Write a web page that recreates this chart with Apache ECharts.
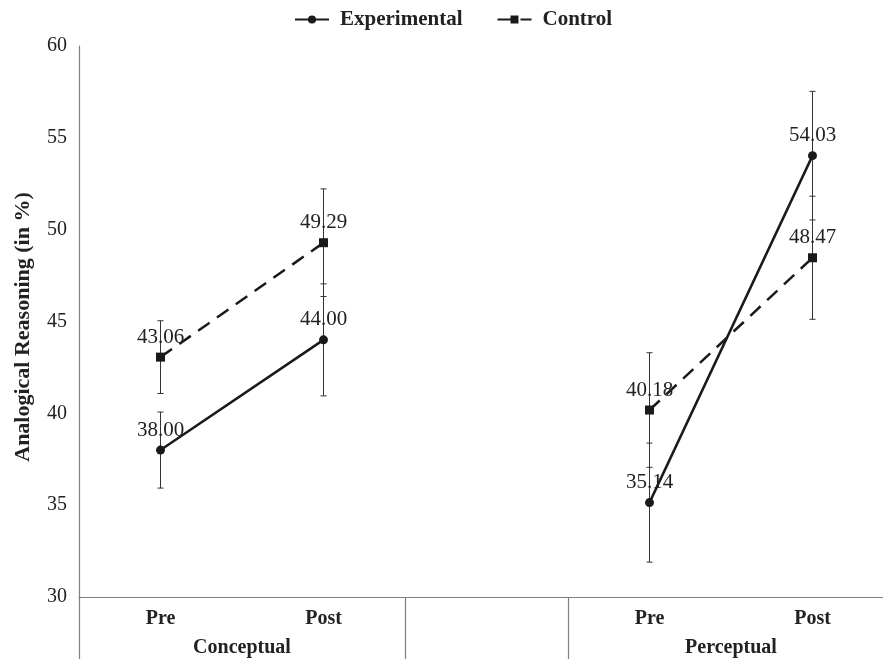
<!DOCTYPE html>
<html>
<head>
<meta charset="utf-8">
<script src="https://cdn.jsdelivr.net/npm/echarts@6/dist/echarts.min.js"></script>
<style>html,body{margin:0;padding:0;background:#fff;}#c{width:883px;height:659px;}</style>
</head>
<body>
<div id="c"></div>
<script>
const categories = ['Pre', 'Post', '', 'Pre', 'Post'];
const groupLabels = ['Conceptual', 'Perceptual'];
const groupCenters = [1, 4];
const groupBounds = [0, 2, 3, 5];
const experimental = [38.00, 44.00, '-', 35.14, 54.03];
const control = [43.06, 49.29, '-', 40.18, 48.47];
const errExperimental = [2.07, 3.05, null, 3.24, 3.50];
const errControl = [1.98, 2.93, null, 3.12, 3.35];
const yTicks = [30, 35, 40, 45, 50, 55, 60];

const FONT = '"Liberation Serif", "DejaVu Serif", serif';
const TXT = '#222';

function errData(vals, errs) {
  const out = [];
  vals.forEach((v, i) => {
    if (typeof v === 'number' && errs[i] != null) out.push([i, v - errs[i], v + errs[i]]);
  });
  return out;
}

function renderErr(params, api) {
  const x = api.value(0);
  const lo = api.coord([x, api.value(1)]);
  const hi = api.coord([x, api.value(2)]);
  const cw = 3;
  const st = { stroke: '#333', lineWidth: 1 };
  return {
    type: 'group',
    children: [
      { type: 'line', shape: { x1: lo[0], y1: lo[1], x2: hi[0], y2: hi[1] }, style: st },
      { type: 'line', shape: { x1: lo[0] - cw, y1: lo[1], x2: lo[0] + cw, y2: lo[1] }, style: st },
      { type: 'line', shape: { x1: hi[0] - cw, y1: hi[1], x2: hi[0] + cw, y2: hi[1] }, style: st }
    ]
  };
}

const labelCfg = {
  show: true,
  position: 'top',
  distance: 5,
  fontFamily: FONT,
  fontSize: 21,
  color: TXT,
  formatter: p => Number(p.value).toFixed(2)
};

const chart = echarts.init(document.getElementById('c'), null, { renderer: 'canvas' });
chart.setOption({
  animation: false,
  backgroundColor: '#fff',
  textStyle: { fontFamily: FONT },
  legend: {
    top: 4,
    left: 289,
    itemWidth: 34,
    itemHeight: 10,
    itemGap: 34,
    textStyle: { fontFamily: FONT, fontSize: 21, fontWeight: 'bold', color: TXT, padding: [0, 0, 0, 6] },
    data: ['Experimental', 'Control']
  },
  grid: { left: 79, right: -11, top: 46, bottom: 62, containLabel: false, outerBoundsMode: 'none' },
  xAxis: [
    {
      type: 'category',
      data: categories,
      boundaryGap: true,
      axisLine: { show: true, lineStyle: { color: '#7f7f7f', width: 1.2 } },
      axisTick: { show: false },
      axisLabel: { fontFamily: FONT, fontSize: 20, fontWeight: 'bold', color: TXT, margin: 12, interval: 0 },
      splitLine: { show: false }
    },
    {
      type: 'value',
      min: 0,
      max: 5,
      position: 'bottom',
      axisLine: { show: false },
      axisTick: { show: true, customValues: groupBounds, length: 62, lineStyle: { color: '#7f7f7f', width: 1.2 } },
      axisLabel: {
        show: true,
        customValues: groupCenters,
        fontFamily: FONT, fontSize: 20, fontWeight: 'bold', color: TXT, margin: 41,
        formatter: v => { const i = groupCenters.indexOf(v); return i >= 0 ? groupLabels[i] : ''; }
      },
      splitLine: { show: false }
    }
  ],
  yAxis: {
    type: 'value',
    min: 30,
    max: 60,
    interval: 5,
    name: 'Analogical Reasoning (in %)',
    nameLocation: 'middle',
    nameGap: 45,
    nameRotate: 90,
    nameTextStyle: { fontFamily: FONT, fontSize: 22, fontWeight: 'bold', color: TXT, padding: [0, 11, 0, 0] },
    axisLine: { show: true, lineStyle: { color: '#7f7f7f', width: 1.2 } },
    axisTick: { show: false },
    axisLabel: { fontFamily: FONT, fontSize: 20, color: TXT, margin: 12, formatter: v => yTicks.includes(v) ? String(v) : '' },
    splitLine: { show: false }
  },
  series: [
    {
      name: 'errExp', type: 'custom', xAxisIndex: 0, renderItem: renderErr,
      data: errData(experimental, errExperimental), z: 1, silent: true
    },
    {
      name: 'errCtl', type: 'custom', xAxisIndex: 0, renderItem: renderErr,
      data: errData(control, errControl), z: 1, silent: true
    },
    {
      name: 'Experimental', type: 'line', xAxisIndex: 0, data: experimental,
      connectNulls: false,
      symbol: 'circle', symbolSize: 9,
      lineStyle: { color: '#1a1a1a', width: 2.5, type: 'solid' },
      itemStyle: { color: '#1a1a1a' },
      label: labelCfg, z: 3
    },
    {
      name: 'Control', type: 'line', xAxisIndex: 0, data: control,
      connectNulls: false,
      symbol: 'rect', symbolSize: 9,
      lineStyle: { color: '#1a1a1a', width: 2.5, type: [14, 9] },
      itemStyle: { color: '#1a1a1a' },
      label: labelCfg, z: 3
    }
  ]
});
</script>
</body>
</html>
